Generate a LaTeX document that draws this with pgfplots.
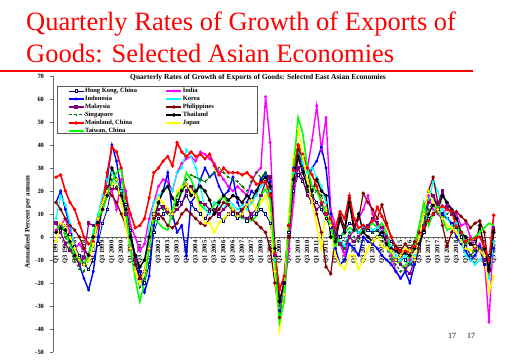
\documentclass[border=0pt]{standalone}
\usepackage{fontspec}
\setmainfont{Liberation Serif}
\usepackage{pgfplots}
\usepackage{pgfplotstable}
\pgfplotsset{compat=1.18}
\definecolor{hkc}{RGB}{0,0,128}
\definecolor{inc}{RGB}{255,0,255}
\definecolor{idc}{RGB}{0,0,255}
\definecolor{koc}{RGB}{0,255,255}
\definecolor{myc}{RGB}{128,0,128}
\definecolor{phc}{RGB}{128,0,0}
\definecolor{sgc}{RGB}{0,128,0}
\definecolor{thc}{RGB}{0,0,0}
\definecolor{cnc}{RGB}{255,0,0}
\definecolor{jpc}{RGB}{255,255,0}
\definecolor{twc}{RGB}{0,255,0}
\pgfplotstableread{
i hk ind id ko my ph sg th cn jp tw
0 6 3 15 8 6 15 2 2 26 -2 3
1 3 5 20 18 2 12 6 4 27 6 6
2 5 8 12 14 -3 8 0 3 20 5 2
3 1 2 5 6 -6 5 -5 -2 15 0 -3
4 -4 -5 -5 -5 -8 3 -10 -8 12 -5 -8
5 -8 -3 -12 -10 -12 0 -14 -10 6 -10 -10
6 -12 -6 -18 -12 -9 -5 -15 -12 0 -12 -12
7 -14 -8 -23 -8 6 -8 -10 -8 -3 -10 -8
8 -10 0 -15 2 5 0 -2 0 -2 -3 2
9 -3 8 0 10 6 8 8 6 5 8 8
10 6 15 15 18 15 15 15 12 15 15 12
11 12 18 25 25 22 20 20 18 28 20 18
12 22 20 40 28 21 18 25 30 39 22 24
13 25 12 33 24 21 15 22 25 37 25 28
14 20 25 20 20 18 10 18 18 30 15 30
15 14 20 10 12 10 5 10 12 17 5 12
16 3 5 0 0 0 -5 -5 0 10 -5 -5
17 -8 0 -8 -10 -10 -12 -15 -8 4 -15 -18
18 -15 -6 -15 -18 -18 -18 -22 -13 5 -20 -28
19 -20 -3 -24 -15 -15 -15 -18 -10 8 -15 -20
20 -12 8 -17 5 -5 -5 -5 0 17 -5 -5
21 2 15 5 15 10 8 10 10 28 10 8
22 8 22 15 18 12 10 15 15 30 17 6
23 10 25 20 20 13 8 12 20 33 15 4
24 12 24 28 22 11 5 10 22 35 12 3
25 10 20 10 20 10 4 8 17 31 10 12
26 16 28 2 28 12 6 18 14 41 20 18
27 15 32 5 30 14 10 22 20 37 22 20
28 18 34 -8 38 20 12 25 23 35 23 28
29 14 35 15 35 22 10 27 18 37 20 25
30 12 33 18 30 18 8 26 20 35 18 20
31 10 37 25 22 15 6 25 22 36 12 14
32 8 36 30 12 14 5 24 20 34 6 12
33 11 34 26 10 12 8 26 16 36 6 11
34 12 32 28 15 12 10 28 10 31 2 14
35 9 28 22 14 10 12 30 15 27 6 16
36 7 25 18 12 12 15 28 18 30 8 18
37 10 22 20 16 14 14 26 16 28 10 14
38 10 20 26 14 11 12 25 18 28 12 12
39 8 22 15 12 10 10 24 17 28 9 10
40 9 20 10 14 9 12 22 15 27 10 8
41 7 18 15 12 8 14 20 18 28 14 8
42 9 24 20 15 10 8 24 16 26 16 7
43 10 28 18 18 12 6 28 20 23 12 9
44 12 30 25 22 18 4 26 24 23.5 15 18
45 10 61 28 24 24 2 28 26 24 18 21
46 6 41 24 20 26 -5 22 22 18 10 16
47 -8 -5 -10 -10 -8 -20 -15 -5 -7 -15 -10
48 -28 -30 -32 -30 -28 -35 -30 -28 -23 -40 -37
49 -20 -25 -20 -20 -20 -25 -20 -20 -17 -25 -28
50 2 -5 5 5 0 0 5 5 5 10 5
51 20 15 30 28 22 25 25 25 29 35 30
52 27 35 38 38 30 38 40 35 40 47 52
53 24 28 30 32 25 35 30 28 36 35 45
54 20 30 25 28 18 30 20 22 30 25 30
55 18 42 30 30 15 18 18 20 27 15 22
56 15 57 33 26 12 10 20 25 22 5 20
57 12 38 39 22 14 2 18 20 15 -5 15
58 8 52 30 15 10 -13 12 18 10 12 10
59 4 12 10 8 8 -16 5 0 8 5 5
60 2 5 -5 2 2 0 0 -2 4 -8 -4
61 0 -3 -12 -2 -3 10 -3 8 11 -12 0
62 3 -8 -10 -4 -5 4 -5 2 8 -14 2
63 6 0 -3 2 0 17 2 15 18 -8 4
64 5 3 -5 3 -2 5 0 3 8 -8 3
65 2 8 -8 2 0 8 -2 10 4 -14 2
66 4 12 0 4 3 19 3 2 5 -10 2
67 3 18 -2 5 5 15 4 0 4 -5 4
68 2 10 -3 3 8 12 2 -2 7 -2 6
69 3 5 -5 4 6 8 3 0 13 0 4
70 1 2 -8 2 4 14 0 2 9 -4 6
71 0 -2 -10 0 0 6 -5 -3 5 -5 2
72 -2 -8 -12 -4 -6 0 -10 -5 0 -6 -8
73 -5 -15 -15 -8 -10 -4 -12 -6 -5 -10 -10
74 -8 -18 -18 -10 -12 -6 -15 -8 -6.5 -8 -12
75 -10 -15 -15 -8 -14 -3 -14 -7 -6 -5 -13
76 -12 -10 -20 -12 -16 -6 -12 -8 -6.5 -6 -8
77 -10 -5 -12 -8 -10 -2 -10 -5 -4 -10 -4
78 -4 0 -5 -5 -5 2 -5 -3 0 0 5
79 2 4 5 5 5 10 5 3 4 10 15
80 8 18 20 15 15 20 12 10 7 20 5
81 10 12 18 24 18 26 15 14 10 15 10
82 12 10 12 20 14 15 10 12 12 12 14
83 10 8 10 12 20 5 8 18 13.5 8 8
84 8 14 8 8 13 -4 10 15 12 5 3
85 6 12 6 5 10 2 12 12 11 4 4
86 4 10 0 6 8 11 8 8 4.5 2 4
87 0 5 -3 -2 2 9 2 2 2 -2 2
88 -4 6 -6 -8 -2 7 -3 0 -2 -5 -3
89 -8 0 -10 -10 -3 4 -8 -3 -1 -6 -1
90 -6 -5 -8 -12 -4 6 -6 -4 -0.5 -4 0
91 -4 -3 -4 -10 -6 7 -5 5 0 -6 2
92 -12 -10 -12 -8 -10 2 -8 -5 -4 -8 4
93 -8 -37 -15 -18 -14 -15 -14 -14 -10 -24 6
94 3 3 -5 -2 4 3 2 2 9.5 -17 5
}\data
\newcommand\fs[1]{\fontsize{#1}{#1}\selectfont}
\begin{document}
\begin{tikzpicture}
\useasboundingbox (0,0) rectangle (521bp,360bp);
\node[anchor=base west, text=red, font=\fs{26.6}, inner sep=0] at (26bp,329bp) {Quarterly Rates of Growth of Exports of};
\node[anchor=base west, text=red, font=\fs{26.6}, inner sep=0] at (26bp,297bp) {Goods: Selected Asian Economies};
\draw[red, line width=2bp] (0bp,289bp) -- (473bp,289bp);
\begin{axis}[
  at={(53bp,8bp)}, anchor=south west,
  scale only axis, width=443bp, height=276bp,
  xmin=-0.65, xmax=94.5, ymin=-50, ymax=70,
  axis x line*=middle, axis y line*=left,
  axis line style={gray!80!black, line width=0.6bp},
  xtick={0,2,...,94},
  minor x tick num=1,
  xticklabels={Q1 1997,Q3 1997,Q1 1998,Q3 1998,Q1 1999,Q3 1999,Q1 2000,Q3 2000,Q1 2001,Q3 2001,Q1 2002,Q3 2002,Q1 2003,Q3 2003,Q1 2004,Q3 2004,Q1 2005,Q3 2005,Q1 2006,Q3 2006,Q1 2007,Q3 2007,Q1 2008,Q3 2008,Q1 2009,Q3 2009,Q1 2010,Q3 2010,Q1 2011,Q3 2011,Q1 2012,Q3 2012,Q1 2013,Q3 2013,Q1 2014,Q3 2014,Q1 2015,Q3 2015,Q1 2016,Q3 2016,Q1 2017,Q3 2017,Q1 2018,Q3 2018,Q1 2019,Q3 2019,Q1 2020,Q3 2020},
  xticklabel style={rotate=90, anchor=east, font=\bfseries\fs{6.5}, inner sep=1bp},
  ytick={-50,-40,...,70},
  yticklabel style={font=\bfseries\fs{6.5}, xshift=-3bp},
  /pgf/number format/assume math mode=true,
  tick align=outside,
  major tick length=2.5bp, minor tick length=2bp,
  tick style={gray!80!black, line width=0.5bp},
  legend columns=2,
  legend cell align=left,
  legend style={at={(0.033,0.961)}, anchor=north west, draw=none, fill=none,
    font=\bfseries\fs{6.5}, inner xsep=0bp, inner ysep=0bp, row sep=0bp,
    /tikz/column 2/.style={column sep=28bp},
    nodes={inner sep=0.6bp, text height=5.2bp, text depth=1.6bp}},
  legend image code/.code={\draw[mark repeat=2,mark phase=2,#1] plot coordinates {(0bp,0bp) (7.5bp,0bp) (15bp,0bp)};},
  mark size=1.1bp,
]
\addplot[hkc, line width=0.8bp, mark=square*, mark options={solid, fill=white}] table[x=i, y=hk] {\data};
\addlegendentry{Hong Kong, China}
\addplot[inc, line width=1.4bp, mark=*, mark size=0.7bp] table[x=i, y=ind] {\data};
\addlegendentry{India}
\addplot[idc, line width=1.4bp, mark=asterisk, mark size=1.3bp] table[x=i, y=id] {\data};
\addlegendentry{Indonesia}
\addplot[koc, line width=1.2bp, mark=asterisk, mark size=1.3bp] table[x=i, y=ko] {\data};
\addlegendentry{Korea}
\addplot[myc, line width=1.2bp, mark=square*] table[x=i, y=my] {\data};
\addlegendentry{Malaysia}
\addplot[phc, line width=1.2bp, mark=*, mark options={fill=white}] table[x=i, y=ph] {\data};
\addlegendentry{Philippines}
\addplot[sgc, line width=1.0bp, densely dashed, mark=+, mark size=1.3bp, mark options={solid}] table[x=i, y=sg] {\data};
\addlegendentry{Singapore}
\addplot[thc, line width=1.4bp, mark=*, mark options={fill=white}] table[x=i, y=th] {\data};
\addlegendentry{Thailand}
\addplot[cnc, line width=1.6bp, mark=*, mark size=0.8bp] table[x=i, y=cn] {\data};
\addlegendentry{Mainland, China}
\addplot[jpc, line width=1.6bp, mark=*, mark size=0.6bp] table[x=i, y=jp] {\data};
\addlegendentry{Japan}
\addplot[twc, line width=1.6bp] table[x=i, y=tw] {\data};
\addlegendentry{Taiwan, China}
\end{axis}
\draw[gray!70!black, line width=0.5bp] (57bp,227bp) rectangle (257bp,274bp);
\node[anchor=base, font=\bfseries\fs{7.5}, inner sep=0] at (258bp,280bp) {Quarterly Rates of Growth of Exports of Goods: Selected East Asian Economies};
\node[rotate=90, font=\bfseries\fs{7}, inner sep=0] at (28bp,138bp) {Annualized Percent per annum};
\node[font=\fs{8}, inner sep=0] at (452bp,24bp) {17};
\node[font=\fs{8}, inner sep=0] at (471bp,24bp) {17};
\end{tikzpicture}
\end{document}
